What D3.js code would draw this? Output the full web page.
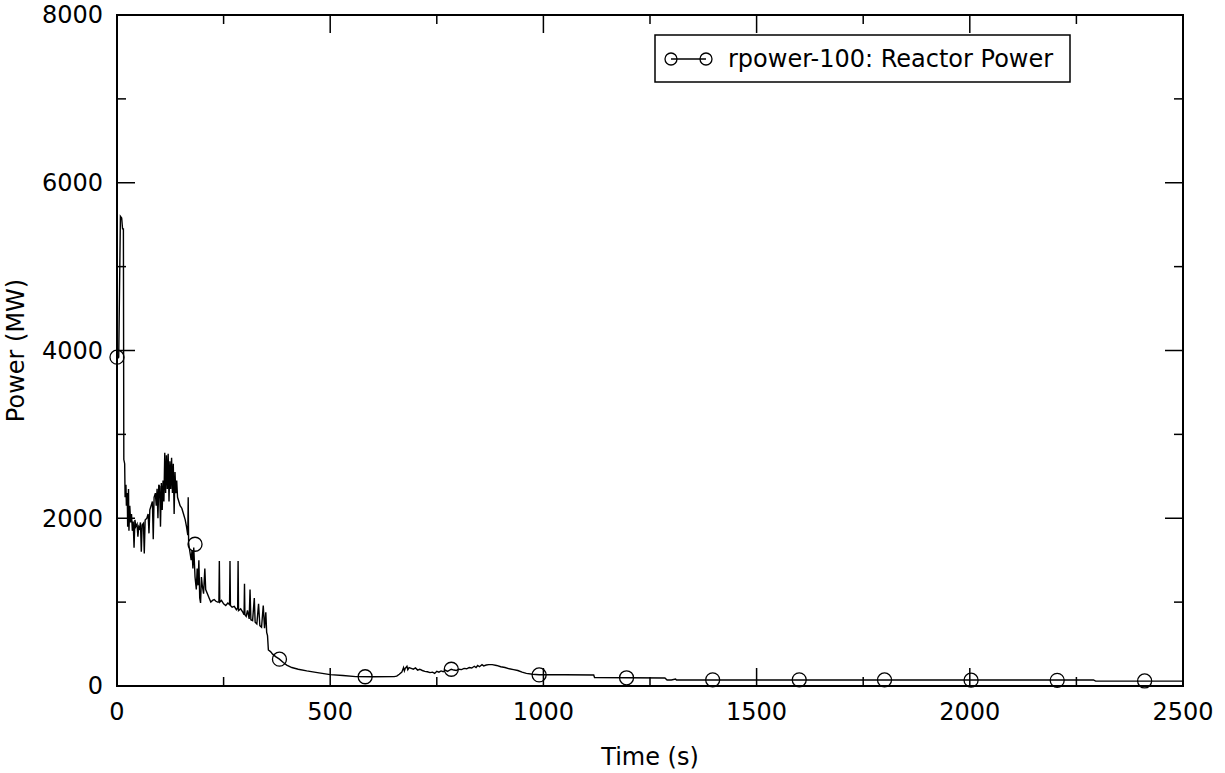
<!DOCTYPE html>
<html>
<head>
<meta charset="utf-8">
<script src="https://cdn.jsdelivr.net/npm/d3@7"></script>
<style>
  body { margin: 0; background: #fff; }
  text { font-family: "DejaVu Sans", sans-serif; fill: #000; }
</style>
</head>
<body>
<svg id="chart" width="1225" height="773"></svg>
<script>
// reactor power trace (time s, power MW)
var times = [0, 4, 8, 11, 13, 15, 16, 18, 19, 21, 22, 24, 25, 27, 28, 30, 32, 34, 36, 38,
  40, 42, 44, 47, 49, 51, 53, 55, 57, 59, 62, 64, 66, 70, 73, 75, 77, 80, 83, 85,
  87, 90, 92, 94, 96, 98, 100, 102, 104, 106, 108, 110, 112, 114, 116, 118, 120, 122, 124, 126,
  128, 130, 132, 134, 136, 138, 140, 142, 145, 148, 152, 156, 160, 163, 166, 167, 168, 171, 174, 176,
  178, 180, 183, 186, 188, 190, 192, 194, 196, 198, 200, 203, 206, 208, 212, 216, 220, 224, 228, 232,
  236, 239, 240, 241, 245, 250, 255, 260, 264, 265, 266, 270, 275, 280, 283, 284, 285, 290, 295, 298,
  299, 300, 303, 306, 310, 312, 314, 318, 322, 324, 328, 332, 335, 339, 343, 346, 349, 351, 353, 355,
  360, 365, 372, 381, 390, 398, 410, 425, 445, 470, 500, 530, 560, 600, 650, 656, 662, 668, 672, 674,
  676, 680, 682, 685, 690, 695, 700, 705, 710, 716, 722, 728, 734, 740, 745, 750, 755, 760, 765, 770,
  775, 784, 790, 796, 802, 808, 814, 820, 826, 832, 838, 842, 846, 850, 856, 860, 866, 872, 880, 890,
  900, 910, 920, 930, 940, 950, 960, 975, 990, 1050, 1118, 1120, 1200, 1285, 1290, 1300, 1310, 1312, 1600, 2000,
  2290, 2295, 2500];
var power = [3900, 3920, 5600, 5580, 5450, 5450, 2700, 2650, 2250, 2400, 2150, 2300, 1900, 2350, 1850, 2150, 1950, 2050, 1850, 1960,
  1650, 1980, 1900, 1930, 1780, 1900, 1880, 1950, 1600, 1920, 1940, 1580, 1980, 2000, 2050, 1820, 2100, 2150, 2200, 1750,
  2250, 2300, 2150, 2350, 2000, 2400, 2380, 1900, 2420, 2100, 2450, 2200, 2780, 2300, 2750, 2350, 2770, 2200, 2680, 2350,
  2720, 2300, 2650, 2050, 2550, 2300, 2450, 2250, 2200, 2150, 2120, 2050, 1980, 1900, 1800, 2250, 1700, 1600, 1500, 1620,
  1400, 1650, 1300, 1150, 1400, 1200, 1500, 1050, 990, 1300, 1200, 1100, 1400, 1150, 1100, 1050, 1000, 1020, 1030, 1010,
  1000, 1000, 1490, 1000, 1020, 980, 960, 990, 970, 1490, 960, 940, 950, 910, 930, 1490, 900, 920, 880, 850,
  1220, 850, 830, 900, 800, 1150, 790, 780, 1050, 760, 740, 980, 720, 700, 960, 690, 880, 640, 600, 430,
  410, 380, 350, 320, 280, 250, 220, 200, 180, 160, 135, 125, 112, 110, 112, 118, 140, 165, 220, 180,
  210, 235, 195, 220, 210, 200, 215, 190, 200, 185, 175, 170, 160, 165, 150, 175, 165, 180, 170, 190,
  175, 200, 190, 185, 200, 195, 210, 205, 220, 215, 235, 220, 245, 230, 255, 240, 250, 255, 255, 245,
  230, 220, 205, 195, 185, 165, 150, 140, 135, 135, 132, 100, 98, 95, 72, 72, 82, 72, 72, 72,
  72, 58, 58];

// circle markers along the trace
var markerTimes = [0, 183, 381, 582, 784, 990, 1195, 1397, 1600, 1800, 2003, 2205, 2410];
var markerPower = [3920, 1690, 320, 110, 200, 132, 98, 74, 74, 72, 70, 68, 60];

var xTicks = [0, 500, 1000, 1500, 2000, 2500];
var yTicks = [0, 2000, 4000, 6000, 8000];
var seriesName = "rpower-100: Reactor Power";

var margin = {top: 15, right: 42, bottom: 87, left: 117},
    width = 1225 - margin.left - margin.right,
    height = 773 - margin.top - margin.bottom;

var svg = d3.select("#chart").append("g")
    .attr("transform", "translate(" + margin.left + "," + margin.top + ")");

var x = d3.scaleLinear().domain([0, 2500]).range([0, width]),
    y = d3.scaleLinear().domain([0, 8000]).range([height, 0]);

var xMinor = d3.range(250, 2500, 500),
    yMinor = d3.range(1000, 8000, 2000);

// ticks on all four sides, pointing inward
function tickSet(cls, vals, len, orient) {
  var g = svg.append("g").attr("class", cls);
  g.selectAll("line").data(vals).enter().append("line")
    .attr("x1", function(d) {
      if (orient == "b" || orient == "t") return x(d);
      return orient == "l" ? 0 : width;
    })
    .attr("x2", function(d) {
      if (orient == "b" || orient == "t") return x(d);
      return orient == "l" ? len : width - len;
    })
    .attr("y1", function(d) {
      if (orient == "l" || orient == "r") return y(d);
      return orient == "b" ? height : 0;
    })
    .attr("y2", function(d) {
      if (orient == "l" || orient == "r") return y(d);
      return orient == "b" ? height - len : len;
    })
    .attr("stroke", "#000")
    .attr("stroke-width", 1.5);
}
["b", "t"].forEach(function(o) {
  tickSet("xmaj", xTicks, 18, o);
  tickSet("xmin", xMinor, 9, o);
});
["l", "r"].forEach(function(o) {
  tickSet("ymaj", yTicks, 18, o);
  tickSet("ymin", yMinor, 9, o);
});

// tick labels
svg.append("g").selectAll("text").data(xTicks).enter().append("text")
    .attr("x", function(d) { return x(d); })
    .attr("y", height + 34)
    .attr("text-anchor", "middle")
    .attr("font-size", "24px")
    .text(function(d) { return d; });

svg.append("g").selectAll("text").data(yTicks).enter().append("text")
    .attr("x", -14)
    .attr("y", function(d) { return y(d); })
    .attr("dy", "0.35em")
    .attr("text-anchor", "end")
    .attr("font-size", "24px")
    .text(function(d) { return d; });

svg.append("text")
    .attr("x", x(1250))
    .attr("y", height + 79)
    .attr("text-anchor", "middle")
    .attr("font-size", "24px")
    .text("Time (s)");

svg.append("text")
    .attr("transform", "translate(-93," + (height / 2) + ") rotate(-90)")
    .attr("text-anchor", "middle")
    .attr("font-size", "24px")
    .text("Power (MW)");

// trace
var pts = times.map(function(t, i) { return [t, power[i]]; });
var line = d3.line()
    .x(function(d) { return x(d[0]); })
    .y(function(d) { return y(d[1]); });

svg.append("path")
    .datum(pts)
    .attr("d", line)
    .attr("fill", "none")
    .attr("stroke", "#000")
    .attr("stroke-width", 1.4)
    .attr("stroke-linejoin", "miter");

svg.append("g").selectAll("circle").data(markerTimes).enter().append("circle")
    .attr("cx", function(d) { return x(d); })
    .attr("cy", function(d, i) { return y(markerPower[i]); })
    .attr("r", 7)
    .attr("fill", "none")
    .attr("stroke", "#000")
    .attr("stroke-width", 1.3);

// frame
svg.append("rect")
    .attr("width", width)
    .attr("height", height)
    .attr("fill", "none")
    .attr("stroke", "#000")
    .attr("stroke-width", 2);

// legend
var leg = svg.append("g").attr("transform", "translate(" + (655 - margin.left) + "," + (35 - margin.top) + ")");
leg.append("rect")
    .attr("width", 415)
    .attr("height", 47)
    .attr("fill", "#fff")
    .attr("stroke", "#000")
    .attr("stroke-width", 1.5);
leg.append("line")
    .attr("x1", 16).attr("x2", 51)
    .attr("y1", 24).attr("y2", 24)
    .attr("stroke", "#000").attr("stroke-width", 1.4);
leg.selectAll("circle").data([16, 51]).enter().append("circle")
    .attr("cx", function(d) { return d; })
    .attr("cy", 24)
    .attr("r", 6)
    .attr("fill", "none")
    .attr("stroke", "#000")
    .attr("stroke-width", 1.3);
leg.append("text")
    .attr("x", 73)
    .attr("y", 24)
    .attr("dy", "0.35em")
    .attr("font-size", "24px")
    .text(seriesName);
</script>
</body>
</html>
